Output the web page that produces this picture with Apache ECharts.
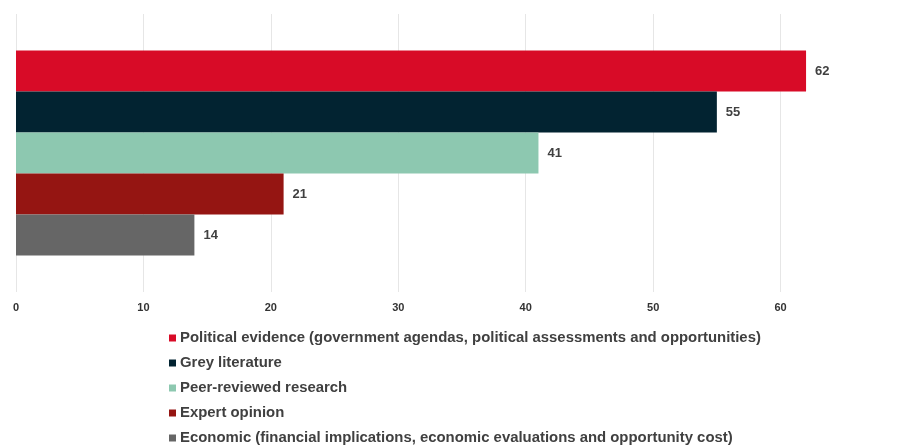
<!DOCTYPE html>
<html>
<head>
<meta charset="utf-8">
<script src="https://cdn.jsdelivr.net/npm/echarts@6/dist/echarts.min.js"></script>
<style>
  html, body { margin: 0; padding: 0; background: #fff; }
  #chart { width: 901px; height: 445px; }
</style>
</head>
<body>
<div id="chart"></div>
<script>
const categories = [''];
const seriesNames = [
  'Political evidence (government agendas, political assessments and opportunities)',
  'Grey literature',
  'Peer-reviewed research',
  'Expert opinion',
  'Economic (financial implications, economic evaluations and opportunity cost)'
];
const seriesValues = [62, 55, 41, 21, 14];
const seriesColors = ['#d80b27', '#022331', '#8dc8b0', '#951512', '#666666'];
const xTicks = [0, 10, 20, 30, 40, 50, 60, 70];

const chart = echarts.init(document.getElementById('chart'));
chart.setOption({
  animation: false,
  textStyle: { fontFamily: 'Liberation Sans, Arial, sans-serif' },
  grid: { left: 16, right: -7, top: 14, bottom: 153, outerBoundsMode: 'none', containLabel: false },
  legend: {
    orient: 'vertical',
    left: 164,
    top: 325.5,
    height: 200,
    icon: 'rect',
    itemWidth: 7,
    itemHeight: 7,
    itemGap: 10,
    textStyle: { color: '#404040', fontSize: 14.9, fontWeight: 'bold', padding: [0, 0, 0, -1] },
    data: seriesNames
  },
  xAxis: {
    type: 'value',
    min: xTicks[0],
    max: xTicks[xTicks.length - 1],
    interval: 10,
    axisLine: { show: false },
    axisTick: { show: false },
    splitLine: { lineStyle: { color: '#e6e6e6' } },
    axisLabel: { color: '#333', fontSize: 11, fontWeight: 'bold', margin: 10 }
  },
  yAxis: {
    type: 'category',
    data: categories,
    inverse: true,
    axisLine: { show: false },
    axisTick: { show: false },
    axisLabel: { show: false }
  },
  series: seriesNames.map((name, i) => ({
    name: name,
    type: 'bar',
    data: [seriesValues[i]],
    barWidth: 41,
    barGap: '0%',
    itemStyle: { color: seriesColors[i] },
    label: {
      show: true,
      position: 'right',
      distance: 9,
      color: '#404040',
      fontSize: 13,
      fontWeight: 'bold'
    }
  }))
});
</script>
</body>
</html>
